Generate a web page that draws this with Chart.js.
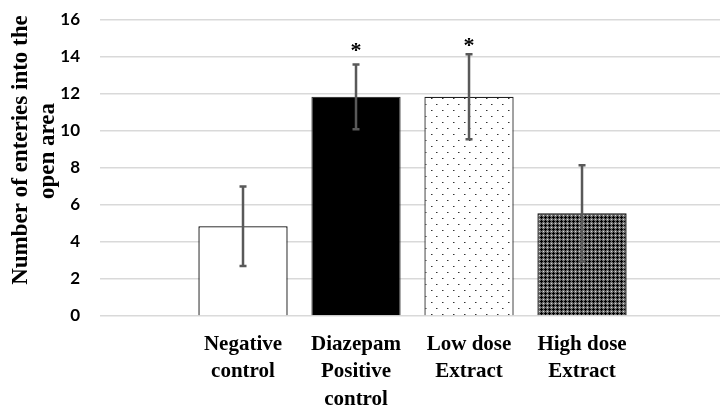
<!DOCTYPE html>
<html>
<head>
<meta charset="utf-8">
<script src="https://cdn.jsdelivr.net/npm/chart.js@4"></script>
<style>
html,body{margin:0;padding:0;background:#fff;}
#wrap{width:720px;height:406px;position:relative;}
</style>
</head>
<body>
<div id="wrap"><canvas id="c" width="720" height="406"></canvas></div>
<script>
const categories = [["Negative","control"],["Diazepam","Positive","control"],["Low dose","Extract"],["High dose","Extract"]];
const xValues = [0, 1, 2, 3];
const means = [4.85, 11.85, 11.85, 5.55];
const errors = [2.15, 1.75, 2.3, 2.6];
const starMarks = ["", "*", "*", ""];
const starValues = [null, 14.55, 14.8, null];
const yTitle = ["Number of enteries into the", "open area"];
const yMin = 0, yMax = 16, yStep = 2;

function makeDots(){
  const c = document.createElement('canvas'); c.width = 11; c.height = 12;
  const g = c.getContext('2d');
  g.fillStyle = '#fff'; g.fillRect(0,0,11,12);
  g.fillStyle = '#333';
  g.fillRect(2,2,1,1); g.fillRect(7,8,1,1);
  g.fillStyle = '#999';
  g.fillRect(3,2,1,1); g.fillRect(8,8,1,1);
  return document.getElementById('c').getContext('2d').createPattern(c,'repeat');
}
function makeHatch(){
  const c = document.createElement('canvas'); c.width = 4; c.height = 4;
  const g = c.getContext('2d');
  g.fillStyle = '#6e6e6e'; g.fillRect(0,0,4,4);
  g.fillStyle = '#000';
  [[1,0],[0,1],[1,1],[2,1],[1,2]].forEach(p=>g.fillRect(p[0],p[1],1,1));
  g.fillStyle = '#d8d8d8';
  g.fillRect(3,3,1,1);
  return document.getElementById('c').getContext('2d').createPattern(c,'repeat');
}

const fills = ['#ffffff', '#000000', makeDots(), makeHatch()];
const borders = ['#000000', '#3a3a3a', '#222222', '#111111'];

const errPlugin = {
  id: 'errbars',
  afterDatasetsDraw(chart){
    const {ctx, scales:{x, y}} = chart;
    ctx.save();
    ctx.strokeStyle = '#595959';
    ctx.lineWidth = 2.5;
    xValues.forEach((xv, i) => {
      const px = x.getPixelForValue(xv);
      const top = y.getPixelForValue(means[i] + errors[i]);
      const bot = y.getPixelForValue(means[i] - errors[i]);
      ctx.beginPath();
      ctx.moveTo(px, top); ctx.lineTo(px, bot);
      ctx.moveTo(px - 3.5, top); ctx.lineTo(px + 3.5, top);
      ctx.moveTo(px - 3.5, bot); ctx.lineTo(px + 3.5, bot);
      ctx.stroke();
      if (starMarks[i] && starValues[i] != null){
        ctx.fillStyle = '#000';
        ctx.font = 'bold 22px "Liberation Serif"';
        ctx.textAlign = 'center';
        ctx.textBaseline = 'middle';
        ctx.fillText(starMarks[i], px, y.getPixelForValue(starValues[i]) + 4);
      }
    });
    ctx.restore();
  }
};

const titlePlugin = {
  id: 'ytitle',
  afterDraw(chart){
    const ctx = chart.ctx;
    ctx.save();
    ctx.fillStyle = '#000';
    ctx.font = 'bold 23px "Liberation Serif"';
    ctx.textAlign = 'center';
    ctx.textBaseline = 'middle';
    const pos = [[21,150],[48,151]];
    yTitle.forEach((t, i) => {
      ctx.save();
      ctx.translate(pos[i][0], pos[i][1]);
      ctx.rotate(-Math.PI/2);
      ctx.fillText(t, 0, 0);
      ctx.restore();
    });
    ctx.restore();
  }
};

new Chart(document.getElementById('c'), {
  type: 'bar',
  data: {
    datasets: [{
      data: xValues.map((v, i) => ({x: v, y: means[i]})),
      backgroundColor: fills,
      borderColor: borders,
      borderWidth: 1.3,
      barPercentage: 0.79,
      categoryPercentage: 1.0
    }]
  },
  options: {
    responsive: false,
    animation: false,
    devicePixelRatio: 1,
    layout: { padding: { top: 20, right: 0, left: 0, bottom: 0 } },
    plugins: { legend: { display: false }, tooltip: { enabled: false } },
    scales: {
      x: {
        type: 'linear',
        offset: false,
        bounds: 'ticks',
        min: -1.2655,
        max: 4.221,
        grid: { display: false },
        border: { display: false },
        afterBuildTicks: s => { s.ticks = xValues.map(v => ({value: v})); },
        afterFit: s => { s.height = 90; },
        ticks: {
          autoSkip: false,
          maxRotation: 0,
          padding: 7,
          color: '#000',
          font: { family: '"Liberation Serif"', weight: 'bold', size: 21, lineHeight: 1.3 },
          callback: v => categories[v]
        }
      },
      y: {
        min: yMin,
        max: yMax,
        afterFit: s => { s.width = 100; },
        grid: { color: '#d9d9d9', lineWidth: 1.5, drawTicks: true, tickLength: 20, tickColor: 'rgba(0,0,0,0)' },
        border: { display: false },
        ticks: {
          stepSize: yStep,
          padding: 0,
          color: '#000',
          font: { family: 'Lato', weight: 'bold', size: 17 }
        }
      }
    }
  },
  plugins: [errPlugin, titlePlugin]
});
</script>
</body>
</html>
